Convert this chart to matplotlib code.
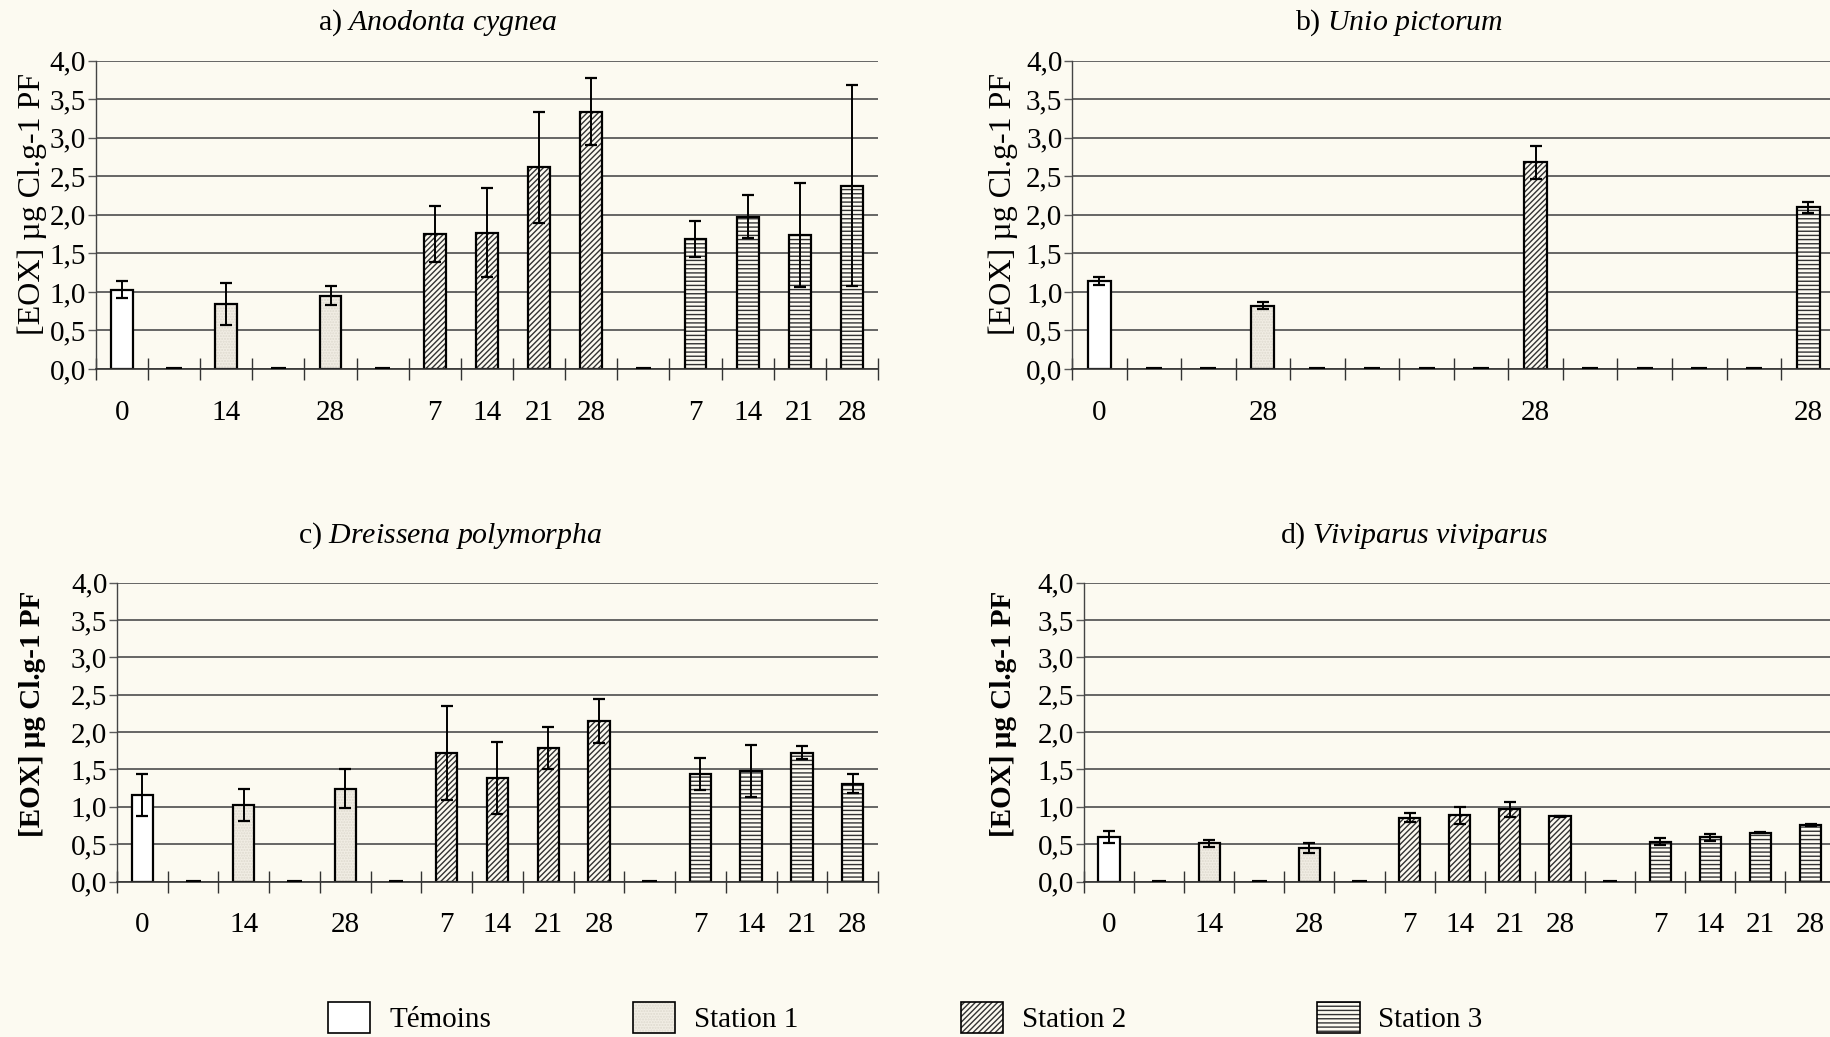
import numpy as np
import matplotlib
matplotlib.use("Agg")
import matplotlib.pyplot as plt
from matplotlib.patches import Patch

plt.rcParams['font.family'] = ['Liberation Serif', 'DejaVu Serif']
plt.rcParams['mathtext.fontset'] = 'custom'
plt.rcParams['mathtext.rm'] = 'Liberation Serif'
plt.rcParams['mathtext.it'] = 'Liberation Serif:italic'
plt.rcParams['hatch.linewidth'] = 1.0

# ---- data (0 = empty slot drawn as a dash on the axis) ----
# group codes: 0 Témoins, 1 Station 1, 2 Station 2, 3 Station 3
labels_a = ['0', '', '14', '', '28', '', '7', '14', '21', '28', '', '7', '14', '21', '28']
groups_a = [0, 0, 1, 1, 1, 2, 2, 2, 2, 2, 3, 3, 3, 3, 3]
vals_a = [1.03, 0, 0.84, 0, 0.95, 0, 1.75, 1.77, 2.62, 3.34, 0, 1.685, 1.975, 1.74, 2.38]
err_a = [0.105, 0, 0.27, 0, 0.125, 0, 0.36, 0.575, 0.72, 0.43, 0, 0.235, 0.28, 0.675, 1.30]

labels_b = ['0', '', '', '28', '', '', '', '', '28', '', '', '', '', '28']
groups_b = [0, 0, 1, 1, 2, 2, 2, 2, 2, 3, 3, 3, 3, 3]
vals_b = [1.14, 0, 0, 0.82, 0, 0, 0, 0, 2.68, 0, 0, 0, 0, 2.10]
err_b = [0.055, 0, 0, 0.045, 0, 0, 0, 0, 0.21, 0, 0, 0, 0, 0.07]

labels_c = labels_a
groups_c = groups_a
vals_c = [1.16, 0, 1.025, 0, 1.245, 0, 1.725, 1.385, 1.785, 2.15, 0, 1.44, 1.48, 1.725, 1.31]
err_c = [0.28, 0, 0.21, 0, 0.26, 0, 0.63, 0.485, 0.28, 0.29, 0, 0.21, 0.35, 0.085, 0.13]

labels_d = labels_a
groups_d = groups_a
vals_d = [0.595, 0, 0.51, 0, 0.45, 0, 0.855, 0.885, 0.97, 0.873, 0, 0.535, 0.59, 0.655, 0.76]
err_d = [0.077, 0, 0.05, 0, 0.063, 0, 0.057, 0.11, 0.10, 0.01, 0, 0.048, 0.045, 0.01, 0.01]

titles = ['a) $Anodonta\\ cygnea$', 'b) $Unio\\ pictorum$',
          'c) $Dreissena\\ polymorpha$', 'd) $Viviparus\\ viviparus$']
legend_names = ['Témoins', 'Station 1', 'Station 2', 'Station 3']
ylabel = '[EOX] µg Cl.g-1 PF'
yticks = [0.0, 0.5, 1.0, 1.5, 2.0, 2.5, 3.0, 3.5, 4.0]

# styles per group: facecolor, hatch, hatch colour
BG = '#fcfaf1'
styles = [
    ('white', None, 'black'),
    ('#f1ede4', '......', '#dedacf'),
    (BG, '//////', '#333333'),
    (BG, '----', '#333333'),
]

fig = plt.figure(figsize=(18.31, 10.37), dpi=100, facecolor=BG)

# axes rectangles in figure fractions
rects = [
    [0.0524, 0.6442, 0.4271, 0.2973],
    [0.5855, 0.6442, 0.4170, 0.2973],
    [0.0639, 0.1499, 0.4156, 0.2882],
    [0.5920, 0.1499, 0.4105, 0.2882],
]
panels = [
    (labels_a, groups_a, vals_a, err_a),
    (labels_b, groups_b, vals_b, err_b),
    (labels_c, groups_c, vals_c, err_c),
    (labels_d, groups_d, vals_d, err_d),
]
title_pos = [(0.2392, 0.9785), (0.7640, 0.9785), (0.2460, 0.4830), (0.7723, 0.4830)]
ylab_pos = [(0.0175, 0.803), (0.548, 0.803), (0.0175, 0.312), (0.548, 0.312)]
ylab_bold = [False, False, True, True]
ylab_size = [23, 23, 21, 21]

FS = 21
width = 0.42
for k, (labels, groups, vals, errs) in enumerate(panels):
    ax = fig.add_axes(rects[k])
    ax.set_facecolor(BG)
    n = len(vals)
    x = np.arange(n)
    vals = np.array(vals)
    errs = np.array(errs)
    for g in range(4):
        idx = [i for i in range(n) if groups[i] == g and vals[i] > 0]
        if not idx:
            continue
        fc, hatch, hc = styles[g]
        ax.bar(x[idx], vals[idx], width, color=fc, edgecolor=hc, hatch=hatch,
               linewidth=0, zorder=3)
    # outlines; zero slots become short dashes on the axis
    m = vals > 0
    ax.bar(x[m], vals[m], width, fill=False, edgecolor='black', linewidth=1.6, zorder=4)
    ax.bar(x[~m], vals[~m], width * 0.7, fill=False, edgecolor='black', linewidth=3.0,
           zorder=7)
    ax.errorbar(x[m], vals[m], yerr=errs[m], fmt='none', ecolor='black',
                elinewidth=1.4, capsize=4, capthick=1.6, zorder=5)

    ax.set_xlim(-0.5, n - 0.5)
    ax.set_ylim(0, 4.0)
    ax.set_yticks(yticks)
    ax.set_yticklabels([f'{t:.1f}'.replace('.', ',') for t in yticks], fontsize=FS)
    ax.yaxis.grid(True, color='#5a5a5a', linewidth=1.3, zorder=0)
    ax.set_axisbelow(True)
    ax.tick_params(axis='y', length=6, width=1.0, color='#5a5a5a', pad=1)

    ax.set_xticks(np.arange(n + 1) - 0.5)
    ax.set_xticklabels([])
    ax.set_xticks(x, minor=True)
    ax.set_xticklabels(labels, minor=True, fontsize=FS)
    ax.tick_params(axis='x', which='major', direction='inout', length=16, width=1.0,
                   color='#333333')
    ax.tick_params(axis='x', which='minor', length=0, pad=22)

    for s in ['top', 'right']:
        ax.spines[s].set_visible(False)
    ax.spines['left'].set_linewidth(1.0)
    ax.spines['left'].set_color('#444444')
    ax.spines['bottom'].set_linewidth(1.2)
    ax.spines['bottom'].set_color('#333333')
    ax.spines['bottom'].set_zorder(6)

    fig.text(title_pos[k][0], title_pos[k][1], titles[k], fontsize=FS + 0.5,
             ha='center', va='center')
    fig.text(ylab_pos[k][0], ylab_pos[k][1], ylabel, fontsize=ylab_size[k], rotation=90,
             ha='center', va='center',
             fontweight='bold' if ylab_bold[k] else 'normal')

# legend entries placed individually (uneven spacing in the original)
leg_x = [0.1792, 0.3457, 0.5249, 0.7194]
for g in range(4):
    fc, hatch, hc = styles[g]
    fill = Patch(facecolor=fc, edgecolor=hc, hatch=hatch, linewidth=0)
    edge = Patch(fill=False, edgecolor='black', linewidth=1.2)
    fig.legend([(fill, edge)], [legend_names[g]], loc='center left',
               bbox_to_anchor=(leg_x[g], 0.019),
               frameon=False, fontsize=FS, handlelength=1.45, handleheight=1.25,
               handletextpad=0.65, borderpad=0, borderaxespad=0)

fig.savefig('out.png', dpi=100, facecolor=BG)
